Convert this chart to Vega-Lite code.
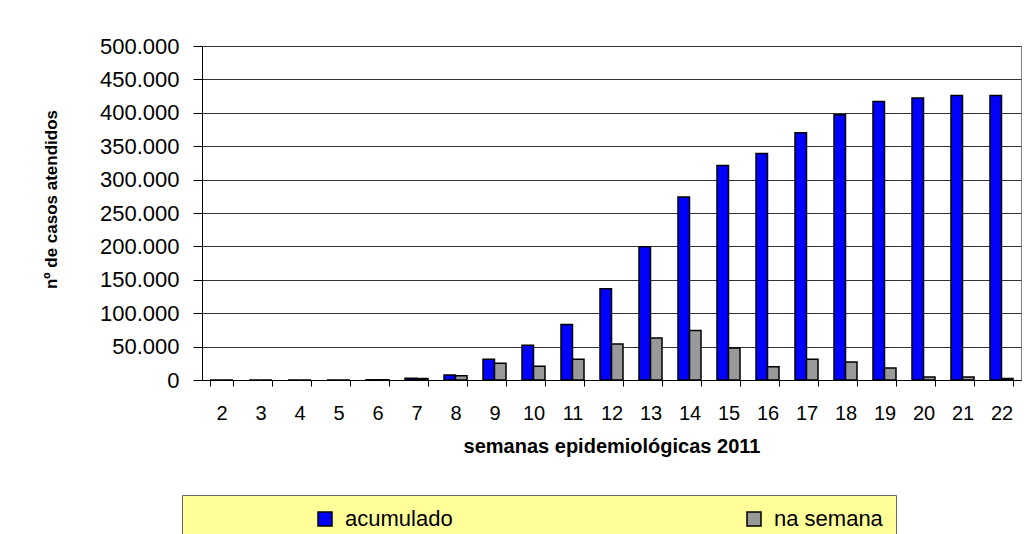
{
  "$schema": "https://vega.github.io/schema/vega-lite/v6.json",
  "width": 819,
  "height": 334,
  "autosize": {"type": "none"},
  "padding": {"left": 202, "top": 46, "right": 6, "bottom": 154},
  "background": "white",
  "data": {
    "values": [
      {"week": 2, "serie": "acumulado", "value": 0},
      {"week": 2, "serie": "na semana", "value": 0},
      {"week": 3, "serie": "acumulado", "value": 0},
      {"week": 3, "serie": "na semana", "value": 0},
      {"week": 4, "serie": "acumulado", "value": 0},
      {"week": 4, "serie": "na semana", "value": 0},
      {"week": 5, "serie": "acumulado", "value": 0},
      {"week": 5, "serie": "na semana", "value": 0},
      {"week": 6, "serie": "acumulado", "value": 300},
      {"week": 6, "serie": "na semana", "value": 300},
      {"week": 7, "serie": "acumulado", "value": 2500},
      {"week": 7, "serie": "na semana", "value": 2200},
      {"week": 8, "serie": "acumulado", "value": 7500},
      {"week": 8, "serie": "na semana", "value": 6500},
      {"week": 9, "serie": "acumulado", "value": 31000},
      {"week": 9, "serie": "na semana", "value": 25000},
      {"week": 10, "serie": "acumulado", "value": 52000},
      {"week": 10, "serie": "na semana", "value": 20500},
      {"week": 11, "serie": "acumulado", "value": 83000},
      {"week": 11, "serie": "na semana", "value": 31000},
      {"week": 12, "serie": "acumulado", "value": 136500},
      {"week": 12, "serie": "na semana", "value": 54000},
      {"week": 13, "serie": "acumulado", "value": 199500},
      {"week": 13, "serie": "na semana", "value": 63000},
      {"week": 14, "serie": "acumulado", "value": 274000},
      {"week": 14, "serie": "na semana", "value": 74000},
      {"week": 15, "serie": "acumulado", "value": 321000},
      {"week": 15, "serie": "na semana", "value": 48000},
      {"week": 16, "serie": "acumulado", "value": 339000},
      {"week": 16, "serie": "na semana", "value": 20000},
      {"week": 17, "serie": "acumulado", "value": 370000},
      {"week": 17, "serie": "na semana", "value": 31000},
      {"week": 18, "serie": "acumulado", "value": 397000},
      {"week": 18, "serie": "na semana", "value": 27000},
      {"week": 19, "serie": "acumulado", "value": 417000},
      {"week": 19, "serie": "na semana", "value": 18000},
      {"week": 20, "serie": "acumulado", "value": 422000},
      {"week": 20, "serie": "na semana", "value": 4500},
      {"week": 21, "serie": "acumulado", "value": 426000},
      {"week": 21, "serie": "na semana", "value": 4500},
      {"week": 22, "serie": "acumulado", "value": 426000},
      {"week": 22, "serie": "na semana", "value": 2400}
    ]
  },
  "mark": {"type": "bar", "stroke": "black", "strokeWidth": 1.5},
  "encoding": {
    "x": {
      "field": "week",
      "type": "ordinal",
      "scale": {"paddingInner": 0.41, "paddingOuter": 0.205},
      "axis": {
        "title": "semanas epidemiológicas 2011",
        "labelAngle": 0,
        "labelFont": "Liberation Sans",
        "labelFontSize": 20,
        "labelColor": "black",
        "labelPadding": 17,
        "tickBand": "extent",
        "tickSize": 6,
        "tickColor": "black",
        "domainColor": "black",
        "titleFont": "Liberation Sans",
        "titleFontSize": 20,
        "titleFontWeight": "bold",
        "titleColor": "black",
        "titleBaseline": "alphabetic",
        "titleY": 72
      }
    },
    "xOffset": {"field": "serie", "type": "nominal", "sort": ["acumulado", "na semana"], "scale": {"paddingInner": 0}},
    "y": {
      "field": "value",
      "type": "quantitative",
      "scale": {"domain": [0, 500000], "nice": false},
      "axis": {
        "title": "nº de casos atendidos",
        "values": [0, 50000, 100000, 150000, 200000, 250000, 300000, 350000, 400000, 450000, 500000],
        "labelExpr": "replace(format(datum.value, ','), ',', '.')",
        "labelFont": "Liberation Sans",
        "labelFontSize": 22,
        "labelColor": "black",
        "labelPadding": 14,
        "tickSize": 9,
        "tickColor": "black",
        "domainColor": "black",
        "gridColor": "#333333",
        "gridOpacity": 1,
        "titleFont": "Liberation Sans",
        "titleFontSize": 17,
        "titleFontWeight": "bold",
        "titleColor": "black",
        "titleBaseline": "alphabetic",
        "titleX": -146,
        "titleY": 153
      }
    },
    "color": {
      "field": "serie",
      "type": "nominal",
      "scale": {"domain": ["acumulado", "na semana"], "range": ["#0000FF", "#999999"]},
      "legend": {
        "title": null,
        "orient": "none",
        "legendX": -20,
        "legendY": 449,
        "direction": "horizontal",
        "columns": 2,
        "columnPadding": 171,
        "symbolType": "square",
        "symbolSize": 196,
        "symbolStrokeColor": "black",
        "symbolStrokeWidth": 1.5,
        "symbolOffset": 119,
        "labelOffset": 9,
        "labelFont": "Liberation Sans",
        "labelFontSize": 22,
        "labelColor": "black",
        "fillColor": "#FFFF99",
        "strokeColor": "#666666",
        "padding": 13
      }
    }
  },
  "config": {
    "view": {"stroke": "#808080"},
    "axis": {"domainWidth": 1, "tickWidth": 1, "gridWidth": 1}
  }
}
